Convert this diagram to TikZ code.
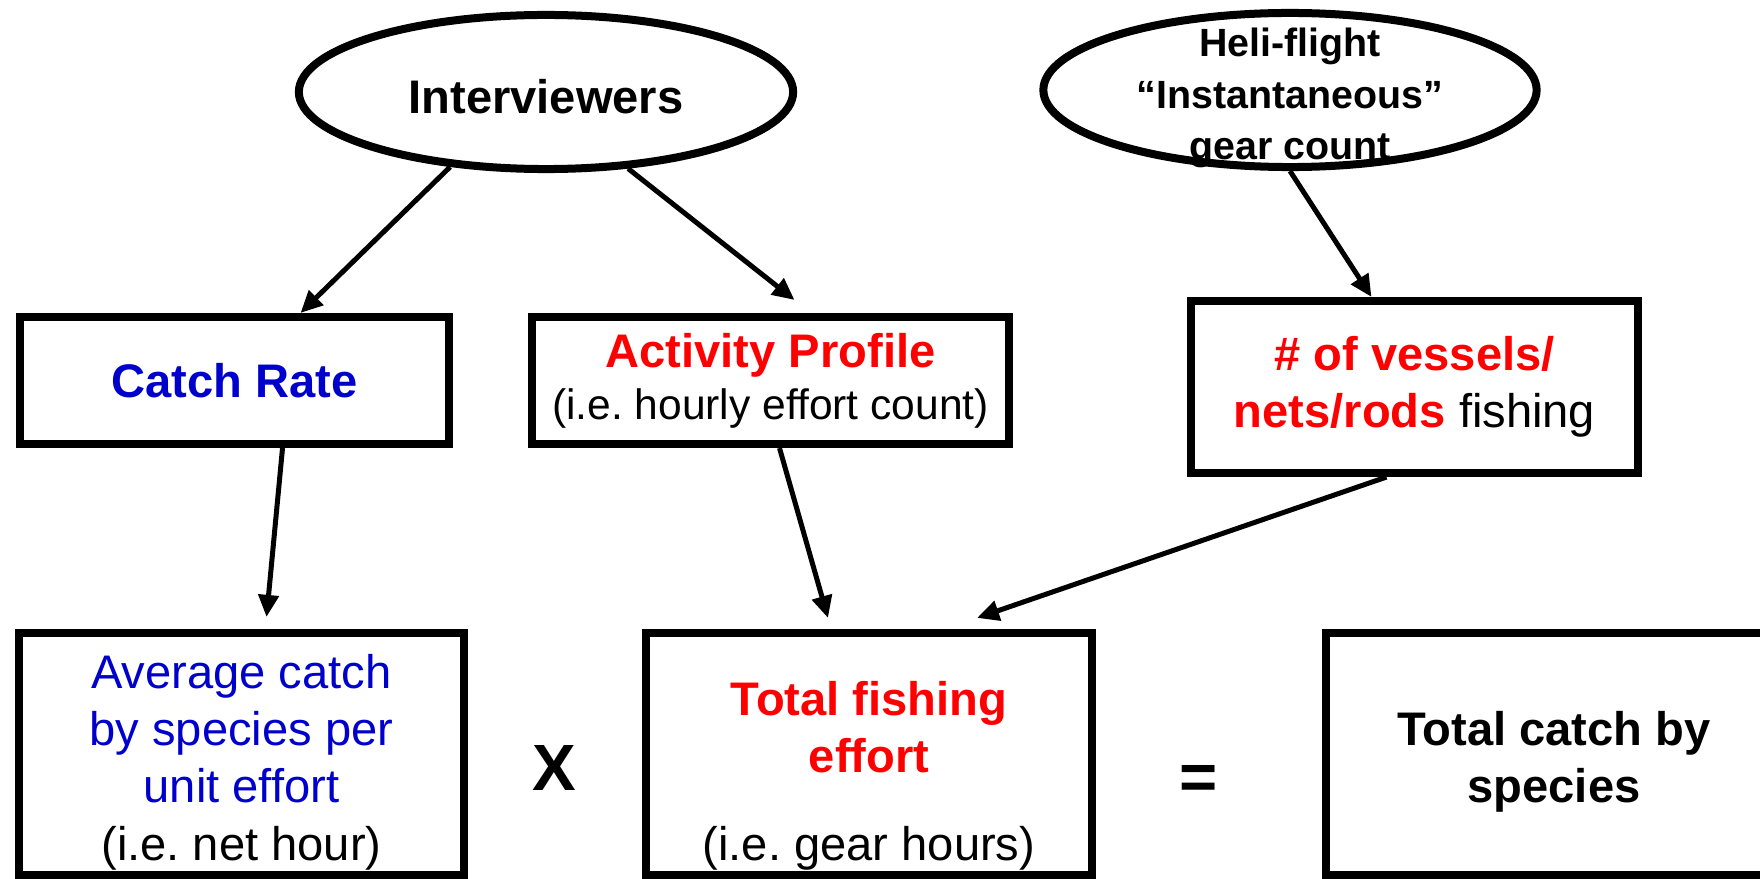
\documentclass[tikz,border=0pt]{standalone}
\usepackage{fontspec}
\setmainfont{Liberation Sans}
\usetikzlibrary{arrows.meta,shapes.geometric}
\frenchspacing

\definecolor{rateblue}{RGB}{0,0,204}
\definecolor{effortred}{RGB}{255,0,0}

\begin{document}
\begin{tikzpicture}[x=0.01cm, y=-0.01cm,
  box/.style={draw, line width=0.08cm, rectangle, inner sep=0pt, align=center,
    font=\fontsize{13.4pt}{16.3pt}\selectfont},
  oval/.style={draw, line width=0.08cm, ellipse, inner sep=0pt},
  arr/.style={-{Triangle[length=0.22cm,width=0.2cm]}, line width=0.05cm},
  sign/.style={font=\fontsize{18.6pt}{20pt}\selectfont\bfseries}]
  \clip (0,0) rectangle (1760,879);

  % sources
  \node[oval, minimum width=4.94cm, minimum height=1.54cm,
    font=\fontsize{13.4pt}{16pt}\selectfont\bfseries] (intv) at (546,92)
    {\rule{0pt}{0.44cm}Interviewers};
  \node[oval, minimum width=4.93cm, minimum height=1.54cm] (heli) at (1290,90) {};
  \node[align=center, inner sep=0pt, font=\fontsize{11.2pt}{14.6pt}\selectfont\bfseries]
    (helitxt) at (1290,98) {Heli-flight\\“Instantaneous”\\gear count};

  % middle row
  \node[box, minimum width=4.29cm, minimum height=1.27cm, text=rateblue] (rate) at (234.5,380.5)
    {\bfseries Catch Rate};
  \node[box, minimum width=4.77cm, minimum height=1.27cm,
    font=\fontsize{13.4pt}{14.7pt}\selectfont] (prof) at (770.5,380.5)
    {{\bfseries\color{effortred}Activity Profile}\\{\fontsize{12.1pt}{14.7pt}\selectfont(i.e. hourly effort count)}};
  \node[box, minimum width=4.47cm, minimum height=1.72cm] (vess) at (1414.5,387)
    {{\bfseries\color{effortred}\# of vessels/}\\{\bfseries\color{effortred}nets/rods} fishing};

  % bottom row
  \node[box, minimum width=4.45cm, minimum height=2.42cm, text=rateblue] (avg) at (241.5,754)
    {\rule{0pt}{0.5cm}Average catch\\by species per\\unit effort\\{\color{black}(i.e. net hour)}};
  \node[box, minimum width=4.46cm, minimum height=2.42cm] (eff) at (869,754)
    {\rule{0pt}{0.78cm}{\bfseries\color{effortred}Total fishing}\\{\bfseries\color{effortred}effort}\\[0.31cm](i.e. gear hours)};
  \node[box, minimum width=4.56cm, minimum height=2.42cm] (total) at (1554,754)
    {\rule{0pt}{0.5cm}\bfseries Total catch by\\\bfseries species};
  \node[sign] (times) at (554,768) {X};
  \node[sign] (equals) at (1199,782) {=};

  % arrows
  \draw[arr] (intv.218) -- ([xshift=0.66cm]rate.north);
  \draw[arr] (intv.317) -- ([xshift=0.24cm,yshift=0.13cm]prof.north);
  \draw[arr] (heli.south) -- ([xshift=-0.43cm]vess.north);
  \draw[arr] ([xshift=0.48cm]rate.south) -- ([xshift=0.25cm,yshift=0.12cm]avg.north);
  \draw[arr] ([xshift=0.09cm]prof.south) -- ([xshift=-0.41cm,yshift=0.11cm]eff.north);
  \draw[arr] ([xshift=-0.28cm]vess.south) -- ([xshift=1.08cm,yshift=0.11cm]eff.north);
\end{tikzpicture}
\end{document}
